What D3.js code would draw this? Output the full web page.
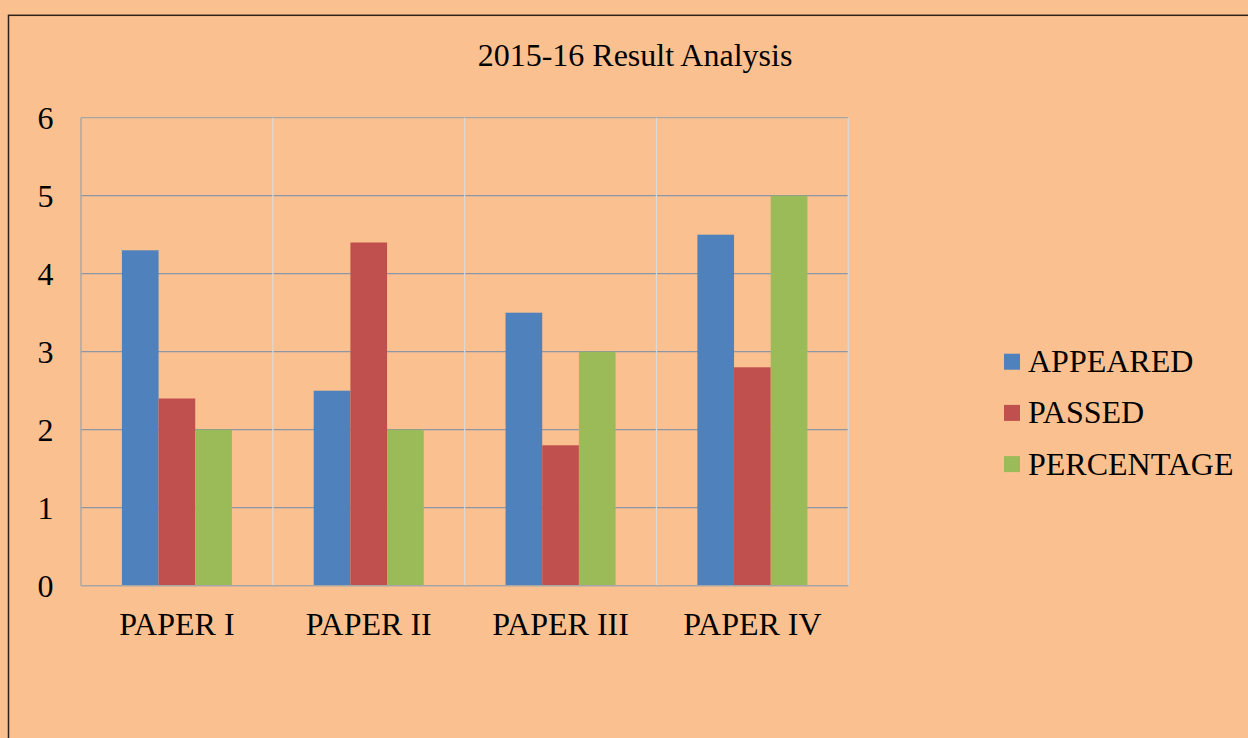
<!DOCTYPE html>
<html>
<head>
<meta charset="utf-8">
<script src="https://cdn.jsdelivr.net/npm/d3@7"></script>
<style>
  html, body { margin: 0; padding: 0; background: #FAC090; }
  svg { display: block; }
</style>
</head>
<body>
<div id="chart"></div>
<script>
const categories = ["PAPER I", "PAPER II", "PAPER III", "PAPER IV"];
const seriesNames = ["APPEARED", "PASSED", "PERCENTAGE"];
const appeared   = [4.3, 2.5, 3.5, 4.5];
const passed     = [2.4, 4.4, 1.8, 2.8];
const percentage = [2, 2, 3, 5];
const yTicks = [0, 1, 2, 3, 4, 5, 6];
const colors = ["#4F81BD", "#C0504D", "#9BBB59"];

const W = 1248, H = 738;
const FONT = "'Liberation Serif', 'Times New Roman', serif";
const FS = 32;
const plot = { left: 81, right: 848.3, top: 117.7, bottom: 585.7 };

const svg = d3.select("#chart").append("svg").attr("width", W).attr("height", H);

svg.append("rect").attr("width", W).attr("height", H).attr("fill", "#FAC090");

// outer frame (runs off the right and bottom)
svg.append("rect")
  .attr("x", 8.5).attr("y", 15.3)
  .attr("width", W + 20).attr("height", H + 20)
  .attr("fill", "none").attr("stroke", "#2e2117").attr("stroke-width", 1.5);

const x0 = d3.scaleBand().domain(categories).range([plot.left, plot.right]).padding(0);
const groupPad = 40.9;
const x1 = d3.scaleBand().domain(seriesNames)
  .range([groupPad, x0.bandwidth() - groupPad]).padding(0);
const y = d3.scaleLinear().domain([0, 6]).range([plot.bottom, plot.top]);

// horizontal grid
svg.append("g")
  .selectAll("line").data(yTicks.filter(d => d > 0)).join("line")
  .attr("x1", plot.left).attr("x2", plot.right)
  .attr("y1", d => y(d)).attr("y2", d => y(d))
  .attr("stroke", d => d === 6 ? "#a6a6a6" : "#8c96a6").attr("stroke-width", 1.2);

// vertical category separators
svg.append("g")
  .selectAll("line").data(categories).join("line")
  .attr("x1", d => x0(d) + x0.bandwidth())
  .attr("x2", d => x0(d) + x0.bandwidth())
  .attr("y1", plot.top).attr("y2", plot.bottom)
  .attr("stroke", "#d9d9d9").attr("stroke-width", 1.2);

// bars
const rows = categories.map((c, i) => ({
  cat: c,
  vals: [appeared[i], passed[i], percentage[i]]
}));

const groups = svg.append("g").selectAll("g").data(rows).join("g")
  .attr("transform", d => `translate(${x0(d.cat)},0)`);

groups.selectAll("rect")
  .data(d => d.vals.map((v, j) => ({ key: seriesNames[j], v, j })))
  .join("rect")
  .attr("x", d => x1(d.key))
  .attr("width", x1.bandwidth())
  .attr("y", d => y(d.v))
  .attr("height", d => y(0) - y(d.v))
  .attr("fill", d => colors[d.j]);

// axes lines
svg.append("line")
  .attr("x1", plot.left).attr("x2", plot.left)
  .attr("y1", plot.top).attr("y2", plot.bottom)
  .attr("stroke", "#a6a6a6").attr("stroke-width", 1.4);
svg.append("line")
  .attr("x1", plot.left).attr("x2", plot.right)
  .attr("y1", plot.bottom).attr("y2", plot.bottom)
  .attr("stroke", "#a6a6a6").attr("stroke-width", 1.4);

// y tick labels
svg.append("g").selectAll("text").data(yTicks).join("text")
  .attr("x", 53.5).attr("y", d => y(d) + 11.5)
  .attr("text-anchor", "end")
  .attr("font-family", FONT).attr("font-size", FS).attr("fill", "#000")
  .text(d => d);

// category labels
svg.append("g").selectAll("text").data(categories).join("text")
  .attr("x", d => x0(d) + x0.bandwidth() / 2).attr("y", 635)
  .attr("text-anchor", "middle")
  .attr("font-family", FONT).attr("font-size", FS).attr("fill", "#000")
  .text(d => d);

// title
svg.append("text")
  .attr("x", 635).attr("y", 66)
  .attr("text-anchor", "middle")
  .attr("font-family", FONT).attr("font-size", FS).attr("fill", "#000")
  .text("2015-16 Result Analysis");

// legend
const legend = svg.append("g").selectAll("g").data(seriesNames).join("g")
  .attr("transform", (d, i) => `translate(1004,${361.7 + i * 51.2})`);
legend.append("rect")
  .attr("x", 0).attr("y", -8).attr("width", 16).attr("height", 16)
  .attr("fill", (d, i) => colors[i]);
legend.append("text")
  .attr("x", 24).attr("y", 10.5)
  .attr("font-family", FONT).attr("font-size", FS).attr("fill", "#000")
  .text(d => d);
</script>
</body>
</html>
